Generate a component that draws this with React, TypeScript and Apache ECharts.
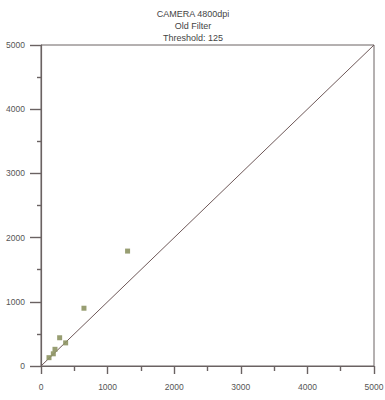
import React, { useEffect, useRef } from "react";
import * as echarts from "echarts";

const titleLines = ["CAMERA 4800dpi", "Old Filter", "Threshold: 125"];
const xValues = [120, 185, 210, 280, 370, 645, 1300];
const yValues = [130, 190, 260, 440, 360, 900, 1790];
const diagonalX = [0, 5000];
const diagonalY = [0, 5000];

export default function App() {
  const ref = useRef<HTMLDivElement>(null);
  useEffect(() => {
    if (!ref.current) return;
    const chart = echarts.init(ref.current, undefined, { renderer: "svg" });
    const axisColor = "#6a6262";
    const tickStyle = { color: "#6a6262", width: 1.4 };
    const labelStyle = {
      color: "#555",
      fontSize: 8.5,
      fontFamily: "Liberation Sans, Arial, sans-serif",
      formatter: (v: number) => String(v),
    };
    chart.setOption({
      animation: false,
      backgroundColor: "#fff",
      title: {
        text: titleLines.join("\n"),
        left: 193,
        textAlign: "center",
        top: 8,
        padding: 0,
        textStyle: { color: "#444", fontSize: 9, fontWeight: "normal", lineHeight: 12, fontFamily: "Liberation Sans, Arial, sans-serif" },
      },
      grid: { left: 41, right: 11, top: 45, bottom: 34, show: true, borderColor: axisColor, borderWidth: 1, outerBoundsMode: "none" },
      xAxis: {
        type: "value",
        min: 0,
        max: 5000,
        interval: 1000,
        axisLine: { show: true, onZero: false, lineStyle: { color: axisColor, width: 1.2 } },
        axisTick: { show: true, inside: false, length: 8, lineStyle: tickStyle },
        minorTick: { show: true, splitNumber: 2, length: 5, lineStyle: tickStyle },
        splitLine: { show: false },
        axisLabel: { ...labelStyle, margin: 16, showMaxLabel: true },
      },
      yAxis: {
        type: "value",
        min: 0,
        max: 5000,
        interval: 1000,
        axisLine: { show: true, onZero: false, lineStyle: { color: axisColor, width: 1.2 } },
        axisTick: { show: true, inside: false, length: 11, lineStyle: tickStyle },
        minorTick: { show: true, splitNumber: 2, length: 4, lineStyle: tickStyle },
        splitLine: { show: false },
        axisLabel: { ...labelStyle, margin: 16 },
      },
      series: [
        {
          type: "line",
          data: diagonalX.map((x, i) => [x, diagonalY[i]]),
          symbol: "none",
          lineStyle: { color: "#6e5858", width: 1 },
          z: 1,
        },
        {
          type: "scatter",
          data: xValues.map((x, i) => [x, yValues[i]]),
          symbol: "rect",
          symbolSize: 5,
          itemStyle: { color: "#8d9363", opacity: 0.9 },
          z: 2,
        },
      ],
    });
    return () => chart.dispose();
  }, []);
  return <div ref={ref} style={{ position: "absolute", left: 0, top: 0, width: 385, height: 400 }} />;
}
